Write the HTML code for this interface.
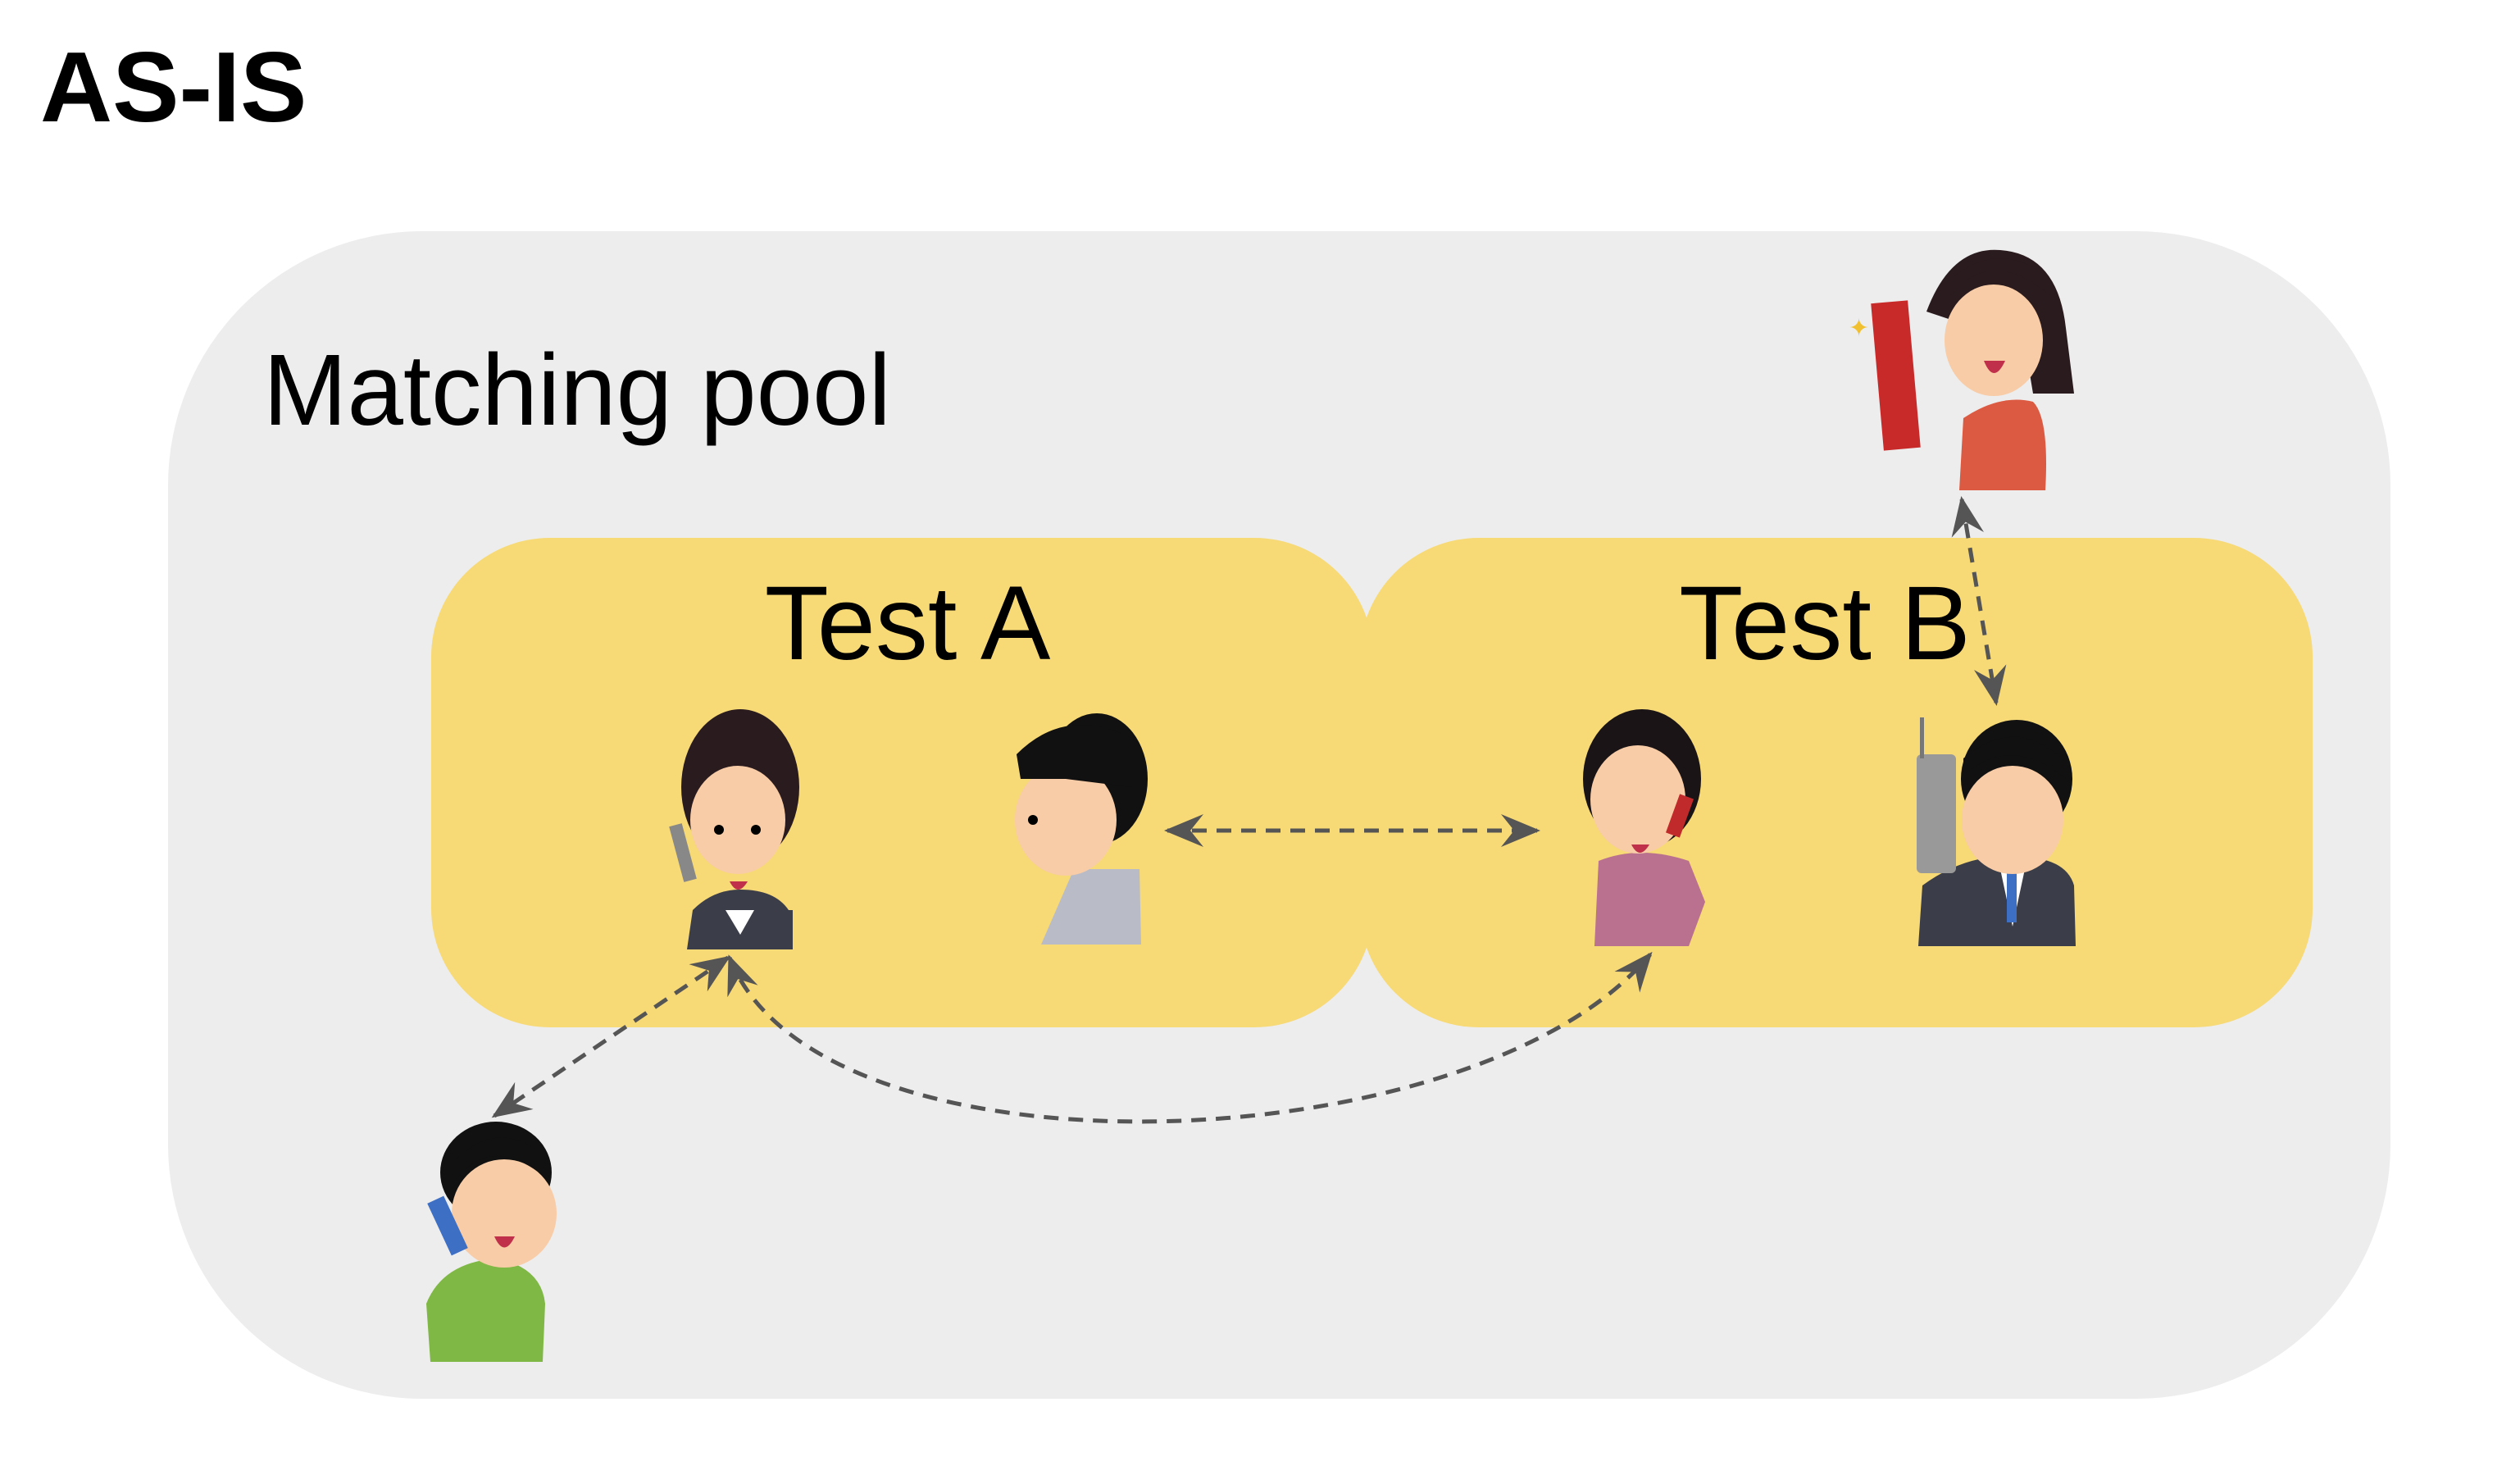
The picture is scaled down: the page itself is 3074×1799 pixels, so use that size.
<!DOCTYPE html>
<html><head><meta charset="utf-8"><style>
html,body{margin:0;padding:0;background:#fff;}
body{width:3074px;height:1794px;position:relative;overflow:hidden;font-family:"Liberation Sans",Arial,sans-serif;}
</style></head><body>
<svg width="3074" height="1794" viewBox="0 0 3074 1794" xmlns="http://www.w3.org/2000/svg">
<defs>
<marker id="a" viewBox="0 0 12 10" refX="11" refY="5" markerWidth="48" markerHeight="40" markerUnits="userSpaceOnUse" orient="auto-start-reverse">
<path d="M0,0 L12,5 L0,10 L4,5 z" fill="#555"/>
</marker>
</defs>
<text x="49" y="148" font-family="Liberation Sans, Arial, sans-serif" font-weight="bold" font-size="122" fill="#000">AS-IS</text>
<rect x="205" y="282" width="2711" height="1424" rx="310" ry="310" fill="#ededed"/>
<text x="321" y="518" font-family="Liberation Sans, Arial, sans-serif" font-size="123" fill="#000">Matching pool</text>
<rect x="526" y="656" width="1149" height="597" rx="145" ry="145" fill="#f7d976"/>
<rect x="1659" y="656" width="1162" height="597" rx="145" ry="145" fill="#f7d976"/>
<text x="1107" y="804" text-anchor="middle" font-family="Liberation Sans, Arial, sans-serif" font-size="128" fill="#000">Test A</text>
<text x="2226" y="804" text-anchor="middle" font-family="Liberation Sans, Arial, sans-serif" font-size="128" fill="#000">Test B</text>

<g stroke="#555" stroke-width="5" stroke-dasharray="18,12" fill="none">
<line x1="1424" y1="1013" x2="1875" y2="1013" marker-start="url(#a)" marker-end="url(#a)"/>
<line x1="2393" y1="609" x2="2435" y2="857" marker-start="url(#a)" marker-end="url(#a)"/>
<line x1="888" y1="1168" x2="603" y2="1361" marker-start="url(#a)" marker-end="url(#a)"/>
<path d="M890,1168 C1000,1450 1800,1420 2013,1164" marker-start="url(#a)" marker-end="url(#a)"/>
</g>

<g>
<ellipse cx="903" cy="960" rx="72" ry="95" fill="#2a1b1e"/>
<rect x="855" y="1110" width="112" height="48" fill="#3b3e48"/>
<path d="M838,1158 L845,1110 Q870,1085 903,1085 Q945,1085 962,1110 L967,1158 Z" fill="#3b3e48"/>
<path d="M885,1110 L903,1140 L920,1110 Z" fill="#fff"/>
<ellipse cx="900" cy="1000" rx="58" ry="66" fill="#f8cca6"/>
<circle cx="877" cy="1012" r="6" fill="#000"/><circle cx="922" cy="1012" r="6" fill="#000"/>
<path d="M890,1075 Q900,1095 912,1075 Z" fill="#c0304a"/>
<rect x="825" y="1005" width="16" height="70" fill="#888" transform="rotate(-15 833 1040)"/>
</g>
<g>
<ellipse cx="1338" cy="950" rx="62" ry="80" fill="#111"/>
<path d="M1310,1060 L1390,1060 L1392,1152 L1270,1152 Z" fill="#b9bcc6"/>
<ellipse cx="1300" cy="1000" rx="62" ry="68" fill="#f8cca6"/>
<path d="M1240,920 Q1300,860 1380,900 L1380,960 L1300,950 L1245,950 Z" fill="#111"/>
<circle cx="1260" cy="1000" r="6" fill="#000"/>
</g>
<g>
<ellipse cx="2003" cy="950" rx="72" ry="85" fill="#1a1416"/>
<path d="M1945,1154 L1950,1050 Q2000,1030 2060,1050 L2080,1100 L2060,1154 Z" fill="#b9718f"/>
<ellipse cx="1998" cy="975" rx="58" ry="66" fill="#f8cca6"/>
<path d="M1990,1030 Q2000,1050 2012,1030 Z" fill="#c0304a"/>
<rect x="2040" y="970" width="18" height="50" fill="#c02a2a" transform="rotate(20 2049 995)"/>
</g>
<g>
<ellipse cx="2460" cy="950" rx="68" ry="72" fill="#111"/>
<path d="M2340,1154 L2345,1080 Q2400,1040 2460,1045 Q2520,1045 2530,1080 L2532,1154 Z" fill="#3b3e48"/>
<path d="M2440,1060 L2455,1130 L2470,1060 Z" fill="#fff"/>
<rect x="2448" y="1065" width="12" height="60" fill="#3d6fc5"/>
<ellipse cx="2455" cy="1000" rx="62" ry="66" fill="#f8cca6"/>
<path d="M2395,945 Q2455,895 2520,950 L2520,930 Q2460,870 2395,925 Z" fill="#111"/>
<rect x="2338" y="920" width="48" height="145" rx="6" fill="#999"/>
<rect x="2342" y="875" width="5" height="50" fill="#777"/>
</g>
<g>
<path d="M2350,380 Q2380,300 2440,305 Q2510,310 2520,400 L2530,480 L2480,480 L2470,420 Z" fill="#2a1b1e"/>
<path d="M2390,598 L2395,510 Q2440,480 2480,490 Q2500,510 2495,598 Z" fill="#dc5a41"/>
<ellipse cx="2432" cy="415" rx="60" ry="68" fill="#f8cca6"/>
<path d="M2380,360 Q2430,300 2500,360 L2500,340 Q2440,290 2380,340 Z" fill="#2a1b1e"/>
<path d="M2420,440 Q2432,470 2446,440 Z" fill="#c0304a"/>
<rect x="2290" y="368" width="45" height="180" fill="#c82a2a" transform="rotate(-5 2312 458)"/>
<text x="2255" y="410" font-size="30" fill="#f0c030">✦</text>
</g>
<g>
<ellipse cx="605" cy="1430" rx="68" ry="62" fill="#111"/>
<path d="M525,1661 L520,1590 Q540,1540 605,1535 Q660,1545 665,1590 L662,1661 Z" fill="#80b845"/>
<ellipse cx="615" cy="1480" rx="64" ry="66" fill="#f8cca6"/>
<path d="M555,1440 Q600,1380 670,1440 L670,1415 Q610,1360 555,1415 Z" fill="#111"/>
<path d="M603,1508 Q615,1535 628,1508 Z" fill="#c0304a"/>
<rect x="535" y="1460" width="22" height="70" fill="#3d6fc5" transform="rotate(-25 546 1495)"/>
</g>
</svg>
</body></html>
